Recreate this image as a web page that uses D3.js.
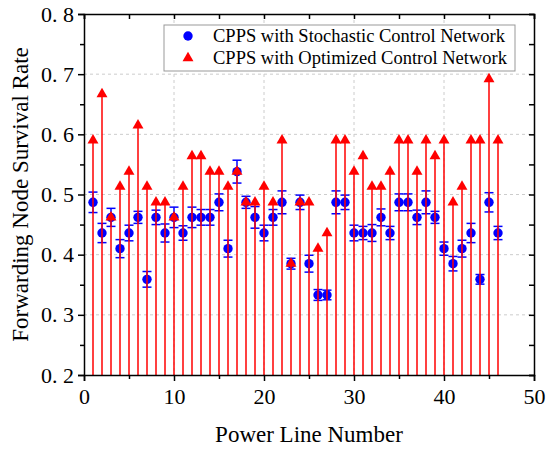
<!DOCTYPE html>
<html>
<head>
<meta charset="utf-8">
<script src="https://cdn.jsdelivr.net/npm/d3@7"></script>
<style>
  body { margin: 0; background: #fff; }
  svg text { font-family: "Liberation Serif", "Times New Roman", serif; fill: #000; }
  .axis path, .axis line { stroke: #000; stroke-width: 1.5; }
  .grid line { stroke: #ccc; stroke-dasharray: 3,3; stroke-width: 1; }
</style>
</head>
<body>
<svg id="chart" width="550" height="449"></svg>
<script>
// power line numbers
var lines = d3.range(1, 47);

// CPPS with stochastic control network (mean and error)
var stochastic = [0.487, 0.436, 0.462, 0.410, 0.436, 0.462, 0.359, 0.462, 0.436, 0.462,
                  0.436, 0.462, 0.462, 0.462, 0.487, 0.410, 0.538, 0.487, 0.462, 0.436,
                  0.462, 0.487, 0.385, 0.487, 0.385, 0.333, 0.333, 0.487, 0.487, 0.436,
                  0.436, 0.436, 0.462, 0.436, 0.487, 0.487, 0.462, 0.487, 0.462, 0.410,
                  0.385, 0.410, 0.436, 0.359, 0.487, 0.436];
var stochasticErr = [0.017, 0.016, 0.015, 0.015, 0.013, 0.010, 0.013, 0.012, 0.015, 0.017,
                     0.012, 0.017, 0.013, 0.013, 0.014, 0.014, 0.019, 0.010, 0.018, 0.013,
                     0.013, 0.019, 0.009, 0.012, 0.014, 0.009, 0.008, 0.019, 0.012, 0.013,
                     0.011, 0.014, 0.014, 0.011, 0.014, 0.014, 0.012, 0.019, 0.010, 0.011,
                     0.012, 0.014, 0.016, 0.008, 0.016, 0.011];

// CPPS with optimized control network
var optimized = [0.590, 0.667, 0.462, 0.513, 0.538, 0.615, 0.513, 0.487, 0.487, 0.462,
                 0.513, 0.564, 0.564, 0.538, 0.538, 0.513, 0.538, 0.487, 0.487, 0.513,
                 0.487, 0.590, 0.385, 0.487, 0.487, 0.410, 0.436, 0.590, 0.590, 0.538,
                 0.564, 0.513, 0.513, 0.538, 0.590, 0.590, 0.538, 0.590, 0.564, 0.590,
                 0.487, 0.513, 0.590, 0.590, 0.692, 0.590];

var xTicks = [0, 10, 20, 30, 40, 50];
var yTicks = [0.2, 0.3, 0.4, 0.5, 0.6, 0.7, 0.8];
var seriesNames = ["CPPS with Stochastic Control Network", "CPPS with Optimized Control Network"];

var margin = {top: 14, right: 16, bottom: 74, left: 84},
    width = 550 - margin.left - margin.right,
    height = 449 - margin.top - margin.bottom;

var svg = d3.select("#chart");
var g = svg.append("g")
    .attr("transform", "translate(" + margin.left + "," + margin.top + ")");

var x = d3.scaleLinear().domain([0, 50]).range([0, width]);
var y = d3.scaleLinear().domain([0.2, 0.8]).range([height, 0]);

// gridlines
g.append("g").attr("class", "grid")
    .selectAll("line").data(xTicks.slice(1, -1)).enter().append("line")
    .attr("x1", function(d) { return x(d); }).attr("x2", function(d) { return x(d); })
    .attr("y1", 0).attr("y2", height);
g.append("g").attr("class", "grid")
    .selectAll("line").data(yTicks.slice(1, -1)).enter().append("line")
    .attr("y1", function(d) { return y(d); }).attr("y2", function(d) { return y(d); })
    .attr("x1", 0).attr("x2", width);

// stochastic: error bars + circles
var blue = "#0000ff";
var sto = g.append("g").selectAll("g").data(lines).enter().append("g");
sto.append("line")
    .attr("x1", function(d) { return x(d); }).attr("x2", function(d) { return x(d); })
    .attr("y1", function(d, i) { return y(stochastic[i] - stochasticErr[i]); })
    .attr("y2", function(d, i) { return y(stochastic[i] + stochasticErr[i]); })
    .attr("stroke", blue).attr("stroke-width", 1.5);
[-1, 1].forEach(function(s) {
    sto.append("line")
        .attr("x1", function(d) { return x(d) - 4.5; }).attr("x2", function(d) { return x(d) + 4.5; })
        .attr("y1", function(d, i) { return y(stochastic[i] + s * stochasticErr[i]); })
        .attr("y2", function(d, i) { return y(stochastic[i] + s * stochasticErr[i]); })
        .attr("stroke", blue).attr("stroke-width", 1.5);
});
sto.append("circle")
    .attr("cx", function(d) { return x(d); })
    .attr("cy", function(d, i) { return y(stochastic[i]); })
    .attr("r", 4.7).attr("fill", blue);

// optimized: stems + triangles
var red = "#ff0000";
var tri = d3.symbol().type(d3.symbolTriangle).size(52);
var opt = g.append("g").selectAll("g").data(lines).enter().append("g");
opt.append("line")
    .attr("x1", function(d) { return x(d); }).attr("x2", function(d) { return x(d); })
    .attr("y1", y(0.2))
    .attr("y2", function(d, i) { return y(optimized[i]); })
    .attr("stroke", red).attr("stroke-width", 1.5);
opt.append("path")
    .attr("d", tri)
    .attr("transform", function(d, i) { return "translate(" + x(d) + "," + y(optimized[i]) + ")"; })
    .attr("fill", red);

// axes
var fmt = function(d) { return d3.format(".1f")(d).replace(".", ". "); };
g.append("g").attr("class", "x axis")
    .attr("transform", "translate(0," + height + ")")
    .call(d3.axisBottom(x).tickValues(xTicks).tickSize(6).tickPadding(7))
    .call(function(a) { a.selectAll("text").style("font-size", "22px"); });
g.append("g").attr("class", "x axis minor")
    .attr("transform", "translate(0," + height + ")")
    .call(d3.axisBottom(x).tickValues([5, 15, 25, 35, 45]).tickSize(4).tickFormat(""))
    .call(function(a) { a.select(".domain").remove(); });
g.append("g").attr("class", "y axis")
    .call(d3.axisLeft(y).tickValues(yTicks).tickSize(6).tickPadding(4).tickFormat(fmt))
    .call(function(a) { a.selectAll("text").style("font-size", "22px"); });
g.append("g").attr("class", "y axis minor")
    .call(d3.axisLeft(y).tickValues([0.25, 0.35, 0.45, 0.55, 0.65, 0.75]).tickSize(4).tickFormat(""))
    .call(function(a) { a.select(".domain").remove(); });
// top and right frame with inward ticks
g.append("g").attr("class", "x axis")
    .call(d3.axisTop(x).tickValues(d3.range(0, 51, 5)).tickSize(-5).tickFormat(""));
g.append("g").attr("class", "y axis")
    .attr("transform", "translate(" + width + ",0)")
    .call(d3.axisRight(y).tickValues(d3.range(0.2, 0.81, 0.05)).tickSize(-5).tickFormat(""));

// axis titles
g.append("text")
    .attr("x", width / 2).attr("y", height + 67)
    .attr("text-anchor", "middle").style("font-size", "23px")
    .text("Power Line Number");
g.append("text")
    .attr("transform", "translate(" + (28 - margin.left) + "," + (height / 2) + ") rotate(-90)")
    .attr("text-anchor", "middle").style("font-size", "23px")
    .text("Forwarding Node Survival Rate");

// legend
var lg = g.append("g").attr("transform", "translate(" + (164 - margin.left) + "," + (25 - margin.top) + ")");
lg.append("rect").attr("width", 351).attr("height", 46)
    .attr("fill", "#fff").attr("stroke", "#999").attr("stroke-width", 1);
lg.append("circle").attr("cx", 24).attr("cy", 11).attr("r", 4.7).attr("fill", blue);
lg.append("path").attr("d", tri).attr("transform", "translate(24,33)").attr("fill", red);
lg.selectAll("text.lbl").data(seriesNames).enter().append("text")
    .attr("class", "lbl")
    .attr("x", 49).attr("y", function(d, i) { return 11 + i * 22; })
    .attr("dy", "0.35em").style("font-size", "18.5px")
    .text(function(d) { return d; });
</script>
</body>
</html>
